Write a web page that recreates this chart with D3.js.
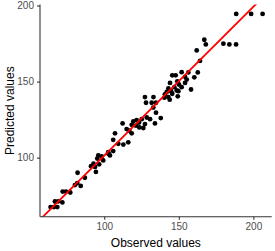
<!DOCTYPE html>
<html>
<head>
<meta charset="utf-8">
<script src="https://cdn.jsdelivr.net/npm/d3@7"></script>
<style>
  body { margin: 0; background: #fff; }
  svg { display: block; font-family: "Liberation Sans", Arial, sans-serif; }
</style>
</head>
<body>
<div id="chart"></div>
<script>
var svgWidth = 275;
var svgHeight = 251;

var margin = { top: 4.6, right: 3.3, bottom: 34.3, left: 40 };
var width = svgWidth - margin.left - margin.right;
var height = svgHeight - margin.top - margin.bottom;

// values
var observed = [188.5, 198.5, 206.2, 167.1, 168.1, 179.9, 183.9, 188.4, 162.0, 164.2,
  151.9, 156.4, 162.7, 145.6, 147.9, 160.4, 144.1, 154.2, 150.1, 143.0,
  147.0, 151.9, 158.2, 141.9, 144.8, 148.6, 140.7, 145.6, 149.3, 143.0,
  140.3, 143.9, 127.3, 133.0, 128.0, 131.8, 134.7, 132.9, 134.7, 137.9,
  128.5, 130.7, 134.0, 125.1, 121.7, 123.3, 127.3, 112.3, 119.5, 118.4,
  121.3, 123.5, 126.2, 116.8, 118.4, 107.2, 106.0, 109.4, 116.1, 102.7,
  98.3, 64.0, 66.2, 68.5, 66.9, 69.1, 71.9, 72.1, 74.3, 77.2,
  80.3, 81.9, 84.2, 82.1, 87.0, 91.1, 92.8, 93.8, 94.4, 95.3,
  96.0, 96.6, 99.3, 103.8, 102.7, 106.0, 115.0, 112.8, 154.2, 155.3,
  149.0, 149.7];
var predicted = [194.5, 194.5, 194.5, 177.5, 174.4, 174.9, 174.4, 174.4, 170.5, 163.6,
  156.2, 156.0, 156.0, 154.1, 154.1, 152.8, 149.1, 149.1, 148.1, 145.5,
  146.3, 146.3, 144.8, 143.2, 143.7, 144.2, 141.6, 142.0, 140.3, 139.8,
  139.4, 138.1, 139.8, 139.8, 136.1, 136.1, 136.1, 132.9, 129.6, 126.0,
  126.4, 125.3, 122.5, 125.3, 124.7, 123.1, 122.1, 122.5, 123.8, 121.6,
  121.0, 119.9, 119.5, 117.7, 116.0, 116.0, 111.7, 109.1, 110.1, 102.6,
  100.8, 67.5, 67.5, 67.5, 71.2, 71.3, 70.6, 77.7, 77.7, 77.1,
  82.0, 83.3, 81.4, 90.1, 86.8, 94.4, 96.0, 93.9, 90.6, 99.4,
  101.5, 95.6, 98.2, 101.5, 103.6, 104.3, 118.8, 108.6, 153.1, 151.3,
  150.2, 143.7];

// fitted line (intercept, slope)
var fitIntercept = 3.6;
var fitSlope = 0.978;

var xTicks = [100, 150, 200];
var yTicks = [100, 150, 200];

var svg = d3.select("#chart")
  .append("svg")
  .attr("width", svgWidth)
  .attr("height", svgHeight);

var chartGroup = svg.append("g")
  .attr("transform", `translate(${margin.left}, ${margin.top})`);

var xScale = d3.scaleLinear()
  .domain([56.9, 212.3])
  .range([0, width]);

var yScale = d3.scaleLinear()
  .domain([61.2, 200.6])
  .range([height, 0]);

chartGroup.append("clipPath")
  .attr("id", "panel")
  .append("rect")
  .attr("width", width)
  .attr("height", height);

// points
chartGroup.append("g")
  .selectAll("circle")
  .data(observed)
  .enter()
  .append("circle")
  .attr("cx", d => xScale(d))
  .attr("cy", (d, i) => yScale(predicted[i]))
  .attr("r", 2.4)
  .attr("fill", "black");

// fitted line
var xDom = xScale.domain();
chartGroup.append("line")
  .attr("clip-path", "url(#panel)")
  .attr("x1", xScale(xDom[0]))
  .attr("y1", yScale(fitIntercept + fitSlope * xDom[0]))
  .attr("x2", xScale(xDom[1]))
  .attr("y2", yScale(fitIntercept + fitSlope * xDom[1]))
  .attr("stroke", "red")
  .attr("stroke-width", 1.8);

// axes
var bottomAxis = d3.axisBottom(xScale).tickValues(xTicks).tickSize(3).tickPadding(3);
var leftAxis = d3.axisLeft(yScale).tickValues(yTicks).tickSize(3).tickPadding(3);

var xAxis = chartGroup.append("g")
  .attr("transform", `translate(0, ${height})`)
  .call(bottomAxis);

var yAxis = chartGroup.append("g")
  .call(leftAxis);

[xAxis, yAxis].forEach(function(ax) {
  ax.select(".domain").attr("stroke", "#333333").attr("stroke-width", 1.1);
  ax.selectAll(".tick line").attr("stroke", "#333333").attr("stroke-width", 1.1);
  ax.selectAll(".tick text")
    .attr("fill", "#4D4D4D")
    .attr("font-size", "10px")
    .attr("font-family", "Liberation Sans, Arial, sans-serif");
});
// plain axis line, no end caps
xAxis.select(".domain").attr("d", `M0,0H${width}`);
yAxis.select(".domain").attr("d", `M0,0V${height}`);

// axis titles
chartGroup.append("text")
  .attr("x", width / 2)
  .attr("y", height + 30)
  .attr("text-anchor", "middle")
  .attr("font-size", "12px")
  .attr("fill", "black")
  .text("Observed values");

chartGroup.append("text")
  .attr("transform", "rotate(-90)")
  .attr("x", -height / 2)
  .attr("y", -26)
  .attr("text-anchor", "middle")
  .attr("font-size", "12px")
  .attr("fill", "black")
  .text("Predicted values");
</script>
</body>
</html>
